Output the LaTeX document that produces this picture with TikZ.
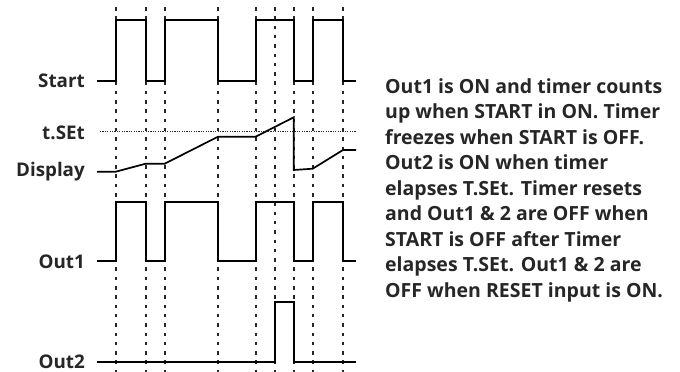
\documentclass[tikz,border=0pt]{standalone}
\usepackage{fontspec}
\setmainfont{Open Sans}
\begin{document}
\begin{tikzpicture}[x=1pt,y=-1pt,
  sig/.style={line width=1.7pt,line join=miter},
  grid/.style={line width=1.8pt,dash pattern=on 3.5pt off 5.8pt,black!85},
  setline/.style={line width=1.2pt,dash pattern=on 1.2pt off 1.2pt,black!85},
  lbl/.style={anchor=east,font=\bfseries\fontsize{18.8}{20}\selectfont,text=black!85,inner sep=0pt},
  txt/.style={anchor=north west,align=left,inner sep=0pt,font=\bfseries\fontsize{19.5}{25.5}\selectfont,text=black!85}]
\useasboundingbox (0,0) rectangle (680,372);
% vertical dotted grid
\foreach \x in {115.7,145.7,164.7,218,255.7,274.7,293.7,312.7,343}
  \draw[grid] (\x,7) -- (\x,372);
% labels
\node[lbl] (start) at (85,81) {Start};
\node[lbl] (tset) at (85,133) {t.SEt};
\node[lbl] (disp) at (85,172) {Display};
\node[lbl] (out1) at (85,262) {Out1};
\node[lbl] (out2) at (85,362) {Out2};
% t.SEt threshold
\draw[setline] (100,131.7) -- (356,131.7);
% Start signal
\draw[sig] (97,80.7) -- (115.7,80.7) -- (115.7,20) -- (145.7,20) -- (145.7,80.7) -- (164.7,80.7) -- (164.7,20) -- (218,20) -- (218,80.7) -- (255.7,80.7) -- (255.7,20) -- (293.7,20) -- (293.7,80.7) -- (312.7,80.7) -- (312.7,20) -- (343,20) -- (343,80.7) -- (356,80.7);
% Display
\draw[sig] (97,171.7) -- (115.7,171.7) -- (145.7,163.7) -- (164.7,163.7) -- (218,136.7) -- (255.7,136.7) -- (293.7,117.3) -- (293.7,170) -- (312.7,168.7) -- (343,150) -- (356,150);
% Out1
\draw[sig] (97,261) -- (115.7,261) -- (115.7,201.7) -- (145.7,201.7) -- (145.7,261) -- (164.7,261) -- (164.7,201.7) -- (218,201.7) -- (218,261) -- (255.7,261) -- (255.7,201.7) -- (293.7,201.7) -- (293.7,261) -- (312.7,261) -- (312.7,201.7) -- (343,201.7) -- (343,261) -- (356,261);
% Out2
\draw[sig] (97,362) -- (274.7,362) -- (274.7,301.7) -- (293.7,301.7) -- (293.7,362) -- (356,362);
% description
\node[txt] (desc) at (385,78) {Out1 is ON and timer counts\\up when START in ON. Timer\\freezes when START is OFF.\\Out2 is ON when timer\\elapses T.SEt. Timer resets\\and Out1 \& 2 are OFF when\\START is OFF after Timer\\elapses T.SEt. Out1 \& 2 are\\OFF when RESET input is ON.};
\end{tikzpicture}
\end{document}
